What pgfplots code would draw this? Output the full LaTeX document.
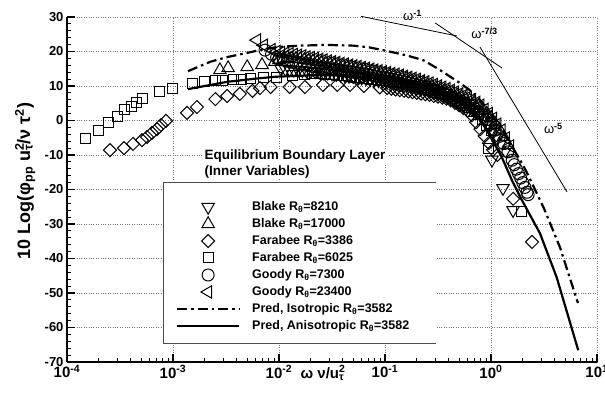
\documentclass[border=0pt]{standalone}
\usepackage{fontspec}
\setmainfont{Liberation Sans}
\usepackage{pgfplots}
\pgfplotsset{compat=1.18}
\newcommand\ff[1]{\fontsize{#1}{#1}\selectfont\bfseries}
\begin{document}
\begin{tikzpicture}[x=1pt,y=1pt]
\useasboundingbox (0,0) rectangle (605,403);
\begin{axis}[
  at={(67pt,41pt)}, anchor=south west,
  scale only axis, width=530pt, height=345pt,
  xmode=log, xmin=1e-4, xmax=10, ymin=-70, ymax=30,
  clip=false,
  axis lines=left, axis line style={-, line width=2.4pt},
  tick align=inside,
  xtick={1e-4,1e-3,1e-2,1e-1,1,10},
  xticklabels={10\textsuperscript{-4},10\textsuperscript{-3},10\textsuperscript{-2},10\textsuperscript{-1},10\textsuperscript{0},10\textsuperscript{1}},
  minor xtick={2e-4,3e-4,4e-4,5e-4,6e-4,7e-4,8e-4,9e-4,2e-3,3e-3,4e-3,5e-3,6e-3,7e-3,8e-3,9e-3,0.02,0.03,0.04,0.05,0.06,0.07,0.08,0.09,0.2,0.3,0.4,0.5,0.6,0.7,0.8,0.9,2,3,4,5,6,7,8,9},
  ytick={-70,-60,-50,-40,-30,-20,-10,0,10,20,30},
  yticklabels={-70,-60,-50,-40,-30,-20,-10,0,10,20,30},
  minor y tick num=4,
  major tick length=8pt, minor tick length=4pt,
  major tick style={line width=1.8pt,black}, minor tick style={line width=0.9pt,black},
  grid=major, major grid style={dotted, line width=0.8pt, black!55},
  x tick label style={font=\ff{15}},
  y tick label style={font=\ff{13}},
  every axis y label/.style={at={(axis description cs:-0.079,0.525)},rotate=90,anchor=center,font=\ff{18}},
  every axis x label/.style={at={(axis description cs:0.482,-0.0464)},anchor=base,font=\ff{15}},
  ylabel={10 Log(φ\textsubscript{pp} u\rlap{\textsuperscript{2}}\textsubscript{τ}/ν τ\textsuperscript{2})},
  xlabel={ω ν/u\rlap{\textsuperscript{2}}\textsubscript{τ}},
  legend style={at={(0.2057,0.4739)}, anchor=north west, draw=none, fill=none,
    inner sep=0pt, outer sep=0pt, row sep=0pt, font=\ff{12.5},
    nodes={inner sep=0pt, minimum height=17pt},
    /tikz/every odd column/.append style={column sep=12pt}},
  legend cell align=left,
  legend image code/.code={\draw[mark repeat=2,mark phase=2,#1] plot coordinates {(0pt,0pt)(31pt,0pt)(62pt,0pt)};},
]
% Blake R=8210
\addplot[only marks, mark=triangle, mark size=7.2pt, mark options={rotate=180, line width=1pt}] coordinates {
(0.01047,15.0) (0.01148,14.9) (0.01259,14.8) (0.01380,14.7) (0.01514,14.6) (0.01660,14.5) (0.01820,14.4) (0.01995,14.3) (0.02188,14.2) (0.02399,14.1) (0.02630,13.9) (0.02884,13.8) (0.03162,13.6) (0.03467,13.4) (0.03802,13.3) (0.04169,13.1) (0.04571,12.9) (0.05012,12.8) (0.05495,12.6) (0.06026,12.4) (0.06607,12.2) (0.07244,12.0) (0.07943,11.8) (0.08710,11.6) (0.09550,11.4) (0.1047,11.2) (0.1148,11.0) (0.1259,10.8) (0.1380,10.5) (0.1514,10.3) (0.1660,10.1) (0.1820,9.8) (0.1995,9.5) (0.2188,9.2) (0.2399,8.9) (0.2630,8.6) (0.2884,8.2) (0.3162,7.8) (0.3467,7.4) (0.3802,7.0) (0.4169,6.5) (0.4571,5.9) (0.5012,5.3) (0.5495,4.7) (0.6026,4.1) (0.6607,3.3) (0.7244,2.4) (0.7943,1.5) (0.8710,-0.1) (0.9550,-1.7) (1.047,-3.4) (1.148,-5.2) (1.021,-11.4) (1.297,-19.6) (1.614,-26.0)};
\addlegendentry{Blake R\textsubscript{θ}=8210}
% Blake R=17000
\addplot[only marks, mark=triangle, mark size=7.2pt, mark options={line width=1pt}] coordinates {
(0.002773,14.6) (0.003311,15.2) (0.005012,15.5) (0.006918,16.1) (0.009120,17.0) (0.01000,17.5) (0.01096,17.8) (0.01202,18.2) (0.01318,17.9) (0.01445,17.8) (0.01585,17.8) (0.01738,17.6) (0.01905,17.4) (0.02089,17.2) (0.02291,17.0) (0.02512,16.8) (0.02754,16.6) (0.03020,16.4) (0.03311,16.2) (0.03631,16.0) (0.03981,15.8) (0.04365,15.6) (0.04786,15.4) (0.05248,15.1) (0.05754,14.9) (0.06310,14.7) (0.06918,14.4) (0.07586,14.2) (0.08318,13.9) (0.09120,13.7) (0.1000,13.4) (0.1096,13.1) (0.1202,12.9) (0.1318,12.6) (0.1445,12.4) (0.1585,12.1) (0.1738,11.7) (0.1905,11.4) (0.2089,11.0) (0.2291,10.7) (0.2512,10.3) (0.2754,9.9) (0.3020,9.5) (0.3311,9.1) (0.3631,8.7) (0.3981,8.3) (0.4365,7.8) (0.4786,7.3) (0.5248,6.8) (0.5754,6.3) (0.6310,5.8) (0.6918,5.0) (0.7586,4.2) (0.8318,3.2) (0.9120,2.0) (1.000,0.8) (1.096,-0.9) (1.202,-2.6) (1.318,-4.7) (1.445,-7.1) (1.585,-9.5)};
\addlegendentry{Blake R\textsubscript{θ}=17000}
% Farabee R=3386
\addplot[only marks, mark=square, mark size=4.6pt, mark options={rotate=45, line width=1pt}] coordinates {
(2.547e-4,-8.6) (3.451e-4,-8.0) (4.198e-4,-6.8) (5.105e-4,-5.7) (5.689e-4,-4.8) (6.339e-4,-3.6) (7.063e-4,-2.5) (7.709e-4,-1.3) (8.590e-4,-0.1) (1.355e-3,2.2) (1.683e-3,3.9) (2.512e-3,6.2) (3.236e-3,7.1) (4.266e-3,7.7) (5.623e-3,8.6) (6.607e-3,9.4) (8.318e-3,9.7) (1.259e-2,9.7) (1.758e-2,9.7) (2.600e-2,10.3) (3.548e-2,10.3) (4.677e-2,10.3) (6.310e-2,10.0) (8.913e-2,9.6) (0.1047,9.4) (0.1148,9.2) (0.1259,9.0) (0.1380,8.8) (0.1514,8.6) (0.1660,8.4) (0.1820,8.2) (0.1995,8.0) (0.2188,7.8) (0.2399,7.6) (0.2630,7.4) (0.2884,7.1) (0.3162,6.9) (0.3467,6.6) (0.3802,6.3) (0.4169,5.8) (0.4571,5.1) (0.5012,4.4) (0.5495,3.6) (0.6026,2.9) (0.6607,1.5) (0.7244,-0.5) (0.7943,-2.5) (0.8710,-4.5) (0.9550,-6.5) (1.047,-8.5) (1.148,-10.0) (1.620,-22.7) (2.438,-35.2)};
\addlegendentry{Farabee R\textsubscript{θ}=3386}
% Farabee R=6025
\addplot[only marks, mark=square, mark size=5pt, mark options={line width=1pt}] coordinates {
(1.510e-4,-5.1) (2.004e-4,-3.0) (2.489e-4,-0.7) (3.027e-4,1.3) (3.524e-4,3.3) (4.018e-4,4.2) (4.571e-4,5.1) (5.105e-4,6.5) (7.534e-4,8.3) (1.000e-3,9.4) (1.514e-3,10.6) (1.995e-3,11.4) (2.512e-3,11.7) (2.951e-3,11.7) (3.715e-3,12.0) (4.467e-3,12.0) (5.370e-3,12.3) (7.079e-3,12.6) (9.550e-3,12.6) (1.349e-2,12.9) (1.738e-2,13.3) (2.089e-2,13.6) (2.512e-2,13.5) (0.02754,13.4) (0.03020,13.3) (0.03311,13.2) (0.03631,13.1) (0.03981,13.0) (0.04365,12.9) (0.04786,12.7) (0.05248,12.6) (0.05754,12.4) (0.06310,12.3) (0.06918,12.1) (0.07586,12.0) (0.08318,11.8) (0.09120,11.7) (0.1000,11.5) (0.1096,11.3) (0.1202,11.1) (0.1318,10.9) (0.1445,10.7) (0.1585,10.5) (0.1738,10.2) (0.1905,9.9) (0.2089,9.6) (0.2291,9.3) (0.2512,9.0) (0.2754,8.6) (0.3020,8.2) (0.3311,7.8) (0.3631,7.4) (0.3981,7.0) (0.4365,6.4) (0.4786,5.7) (0.5248,5.1) (0.5754,4.4) (0.6310,3.8) (0.6918,2.7) (0.7586,1.6) (0.8318,0.2) (0.9120,-1.4) (1.000,-3.0) (0.957,-8.0) (1.960,-26.5)};
\addlegendentry{Farabee R\textsubscript{θ}=6025}
% Goody R=7300
\addplot[only marks, mark=o, mark size=6pt, mark options={line width=1pt}] coordinates {
(0.00738,20.4) (0.00850,19.2) (0.00950,18.3) (0.01000,17.8) (0.01096,17.5) (0.01202,17.2) (0.01318,16.9) (0.01445,16.6) (0.01585,16.3) (0.01738,16.1) (0.01905,15.9) (0.02089,15.7) (0.02291,15.5) (0.02512,15.3) (0.02754,15.1) (0.03020,14.9) (0.03311,14.8) (0.03631,14.6) (0.03981,14.4) (0.04365,14.2) (0.04786,14.0) (0.05248,13.9) (0.05754,13.7) (0.06310,13.5) (0.06918,13.3) (0.07586,13.1) (0.08318,12.8) (0.09120,12.6) (0.1000,12.4) (0.1096,12.1) (0.1202,11.9) (0.1318,11.6) (0.1445,11.4) (0.1585,11.1) (0.1738,10.8) (0.1905,10.5) (0.2089,10.1) (0.2291,9.8) (0.2512,9.5) (0.2754,9.1) (0.3020,8.7) (0.3311,8.2) (0.3631,7.8) (0.3981,7.4) (0.4365,6.8) (0.4786,6.2) (0.5248,5.6) (0.5754,5.0) (0.6310,4.4) (0.6918,3.5) (0.7586,2.6) (0.8318,1.6) (0.9120,0.3) (1.000,-1.0) (1.096,-2.8) (1.202,-4.6) (1.318,-6.7) (1.445,-9.1) (1.585,-11.5) (1.660,-12.8) (1.738,-14.1) (1.820,-15.4) (1.905,-16.7) (1.995,-18.0) (2.089,-19.4) (2.188,-20.8) (2.239,-21.5)};
\addlegendentry{Goody R\textsubscript{θ}=7300}
% Goody R=23400
\addplot[only marks, mark=triangle, mark size=7.2pt, mark options={rotate=90, line width=1pt}] coordinates {
(0.00619,23.3) (0.00720,21.8) (0.00850,20.5) (0.00950,20.0) (0.01047,19.7) (0.01148,19.5) (0.01259,19.3) (0.01380,19.1) (0.01514,18.9) (0.01660,18.7) (0.01820,18.4) (0.01995,18.2) (0.02188,18.0) (0.02399,17.7) (0.02630,17.5) (0.02884,17.2) (0.03162,17.0) (0.03467,16.8) (0.03802,16.5) (0.04169,16.3) (0.04571,16.0) (0.05012,15.8) (0.05495,15.6) (0.06026,15.3) (0.06607,15.1) (0.07244,14.8) (0.07943,14.6) (0.08710,14.4) (0.09550,14.1) (0.1047,13.9) (0.1148,13.6) (0.1259,13.4) (0.1380,13.1) (0.1514,12.8) (0.1660,12.5) (0.1820,12.2) (0.1995,11.9) (0.2188,11.5) (0.2399,11.2) (0.2630,10.8) (0.2884,10.4) (0.3162,10.0) (0.3467,9.6) (0.3802,9.2) (0.4169,8.7) (0.4571,8.2) (0.5012,7.7) (0.5495,7.2) (0.6026,6.7) (0.6607,6.0) (0.7244,5.2) (0.7943,4.4) (0.8710,3.2) (0.9550,2.0) (1.047,0.6) (1.148,-1.1) (1.259,-2.8) (1.380,-5.1) (1.514,-7.4)};
\addlegendentry{Goody R\textsubscript{θ}=23400}
% predictions
\addplot[black, line width=2.2pt, dash pattern=on 10pt off 4pt on 2.5pt off 4pt] coordinates {
(1.387e-3,14.3) (2.239e-3,17.0) (3.162e-3,18.3) (5.012e-3,19.6) (7.079e-3,20.6) (9.550e-3,21.3) (0.01585,21.7) (0.02818,21.9) (0.05012,21.7) (0.07079,21.2) (0.09550,20.4) (0.1585,18.9) (0.2291,17.5) (0.3162,15.0) (0.3981,13.0) (0.5012,11.0) (0.6310,8.8) (0.7943,5.8) (1.000,2.0) (1.259,-2.5) (1.585,-7.6) (1.995,-12.8) (2.239,-15.8) (3.162,-25.5) (4.467,-36.7) (6.607,-52.9)};
\addlegendentry{Pred, Isotropic R\textsubscript{θ}=3582}
\addplot[black, line width=2.2pt] coordinates {
(1.387e-3,9.1) (3.236e-3,11.2) (6.310e-3,12.2) (9.550e-3,12.7) (0.01995,13.1) (0.03981,13.1) (0.1000,12.0) (0.2512,9.5) (0.5012,5.5) (0.7943,0.5) (1.000,-5.0) (1.259,-10.5) (1.585,-17.5) (1.950,-23.0) (2.897,-32.7) (4.159,-45.4) (6.653,-66.6)};
\addlegendentry{Pred, Anisotropic R\textsubscript{θ}=3582}
% power-law slopes
\addplot[black, line width=0.8pt, forget plot] coordinates {(0.0594,30.2) (0.4775,24.5)};
\addplot[black, line width=0.8pt, forget plot] coordinates {(0.2965,28.3) (1.271,15.2)};
\addplot[black, line width=0.8pt, forget plot] coordinates {(0.7870,21.3) (5.212,-20.7)};
\node[anchor=base west, font=\ff{13}, inner sep=0pt] at (axis cs:0.1480,29.0) {{\mdseries ω}\textsuperscript{-1}};
\node[anchor=base west, font=\ff{13}, inner sep=0pt] at (axis cs:0.650,23.7) {{\mdseries ω}\textsuperscript{-7/3}};
\node[anchor=base west, font=\ff{13}, inner sep=0pt] at (axis cs:3.150,-3.8) {{\mdseries ω}\textsuperscript{-5}};
% legend box and title
\fill[white] (axis cs:8.05e-4,-18.1) rectangle (axis cs:0.3027,-64.5);
\draw[black!70, line width=1pt] (axis cs:0.3027,-18.1) -- (axis cs:8.05e-4,-18.1) -- (axis cs:8.05e-4,-64.5) -- (axis cs:0.3027,-64.5);
\node[anchor=base west, fill=white, inner sep=1.5pt, font=\ff{13.5}] at (axis description cs:0.2566,0.5855) {Equilibrium Boundary Layer};
\node[anchor=base west, fill=white, inner sep=1.5pt, font=\ff{13.5}] at (axis description cs:0.2566,0.542) {(Inner Variables)};
\end{axis}
\end{tikzpicture}
\end{document}
